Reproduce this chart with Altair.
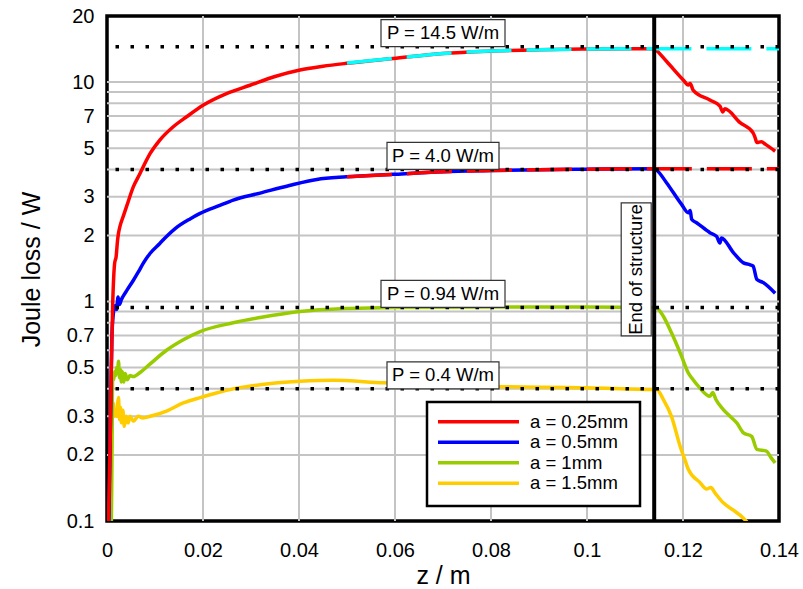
import altair as alt
import pandas as pd

# ---------------- data ----------------
series = ["a = 0.25mm", "a = 0.5mm", "a = 1mm", "a = 1.5mm"]
colors = ["#ff0000", "#0000ff", "#99cc00", "#ffcc00"]

red_z = [0.0003, 0.0006, 0.0009, 0.0012, 0.0014, 0.0016, 0.0019, 0.0022, 0.0024, 0.0027,
         0.0034, 0.0041, 0.0055, 0.0069, 0.0074, 0.009, 0.011, 0.0138, 0.0166, 0.0201,
         0.0249, 0.0298, 0.035, 0.0402, 0.045, 0.0499, 0.0596, 0.07, 0.08, 0.09,
         0.1, 0.108, 0.114, 0.1142, 0.1166, 0.1201, 0.1211, 0.1215, 0.1221, 0.1256,
         0.1277, 0.1283, 0.1287, 0.1319, 0.1346, 0.1350, 0.1354, 0.1363, 0.1372, 0.1392]
red_p = [0.1, 0.2, 0.5, 1.0, 1.3, 1.5, 1.6, 1.9, 2.05, 2.2,
         2.45, 2.72, 3.34, 3.84, 4.05, 4.73, 5.44, 6.26, 6.95, 7.86,
         8.86, 9.67, 10.6, 11.35, 11.8, 12.17, 12.8, 13.5, 13.85, 14.05,
         14.15, 14.2, 14.2, 14.1, 12.4, 10.2, 9.7, 9.85, 9.2, 8.28,
         7.77, 7.3, 7.55, 6.53, 5.87, 5.6, 5.3, 5.35, 5.2, 4.84]

blue_z = [0.0004, 0.0006, 0.0008, 0.001, 0.0013, 0.0017, 0.0020, 0.0023, 0.0026, 0.0030,
          0.0034, 0.0042, 0.0055, 0.0065, 0.0076, 0.009, 0.011, 0.0124, 0.0142, 0.0173,
          0.0194, 0.0235, 0.0263, 0.0319, 0.038, 0.0437, 0.0499, 0.0596, 0.07, 0.08,
          0.09, 0.1, 0.114,
          0.1145, 0.1166, 0.1197, 0.1211, 0.1215, 0.1218, 0.1229, 0.1256, 0.1270, 0.1277,
          0.1280, 0.1305, 0.1326, 0.1340, 0.1346, 0.1354, 0.1367, 0.1392]
blue_p = [0.1, 0.19, 0.36, 0.67, 0.87, 0.96, 0.92, 1.05, 0.97, 1.02,
          1.06, 1.13, 1.25, 1.36, 1.50, 1.66, 1.84, 1.98, 2.15, 2.38,
          2.52, 2.74, 2.90, 3.12, 3.38, 3.60, 3.70, 3.8, 3.9, 3.95,
          3.99, 4.01, 4.03,
          3.97, 3.47, 2.77, 2.54, 2.6, 2.37, 2.28, 2.06, 1.98, 1.85,
          1.95, 1.67, 1.50, 1.47, 1.45, 1.26, 1.22, 1.09]

green_z = [0.0009, 0.001, 0.0011, 0.0012, 0.0014, 0.0016, 0.0018, 0.0020, 0.0022, 0.0024,
           0.0026, 0.0028, 0.0030, 0.0032, 0.0035, 0.0038, 0.0042, 0.0048, 0.0055, 0.0069,
           0.009, 0.0124, 0.0159, 0.0194, 0.0263, 0.0319, 0.0402, 0.0506, 0.06, 0.08,
           0.1, 0.114, 0.1145, 0.1159, 0.1176, 0.1197, 0.1211, 0.1218, 0.1235, 0.1256,
           0.1262, 0.1268, 0.1284, 0.1298, 0.1312, 0.1326, 0.1343, 0.1354, 0.1374, 0.1383, 0.1392]
green_p = [0.1, 0.2, 0.35, 0.47, 0.44, 0.48, 0.46, 0.50, 0.47, 0.535,
           0.45, 0.49, 0.43, 0.48, 0.43, 0.47, 0.44, 0.46, 0.455, 0.475,
           0.52, 0.60, 0.67, 0.73, 0.80, 0.845, 0.90, 0.93, 0.94, 0.945,
           0.945, 0.94, 0.936, 0.857, 0.72, 0.563, 0.473, 0.449, 0.404, 0.37,
           0.385, 0.36, 0.322, 0.30, 0.28, 0.252, 0.243, 0.212, 0.208, 0.195, 0.184]

yellow_z = [0.0009, 0.001, 0.0011, 0.0013, 0.0015, 0.0017, 0.002, 0.0022, 0.0024, 0.0026,
            0.0028, 0.003, 0.0033, 0.0036, 0.004, 0.0044, 0.0048, 0.0055, 0.0065, 0.0075,
            0.009, 0.0124, 0.0159, 0.0194, 0.0228, 0.0263, 0.0319, 0.0402, 0.0471, 0.0576,
            0.07, 0.08, 0.1, 0.114, 0.1145, 0.1159, 0.1176, 0.1194, 0.1204, 0.1211,
            0.1235, 0.1249, 0.1258, 0.1267, 0.1284, 0.1305, 0.1326, 0.1340]
yellow_p = [0.1, 0.2, 0.3, 0.345, 0.30, 0.32, 0.30, 0.34, 0.365, 0.29,
            0.33, 0.28, 0.32, 0.27, 0.30, 0.28, 0.30, 0.285, 0.30, 0.295,
            0.30, 0.317, 0.345, 0.365, 0.383, 0.40, 0.418, 0.433, 0.438, 0.426,
            0.418, 0.41, 0.405, 0.397, 0.397, 0.358, 0.30, 0.219, 0.19, 0.172,
            0.15, 0.14, 0.142, 0.134, 0.121, 0.112, 0.103, 0.095]

# fitted asymptotic curves (dashed)
fit_names = ["fit 0.25mm", "fit 0.5mm"]
fit_colors = ["#00ffff", "#ff0000"]
fit_z = [0.05, 0.06, 0.07, 0.08, 0.09, 0.1, 0.114, 0.14]
fit_cyan_p = [12.2, 12.85, 13.5, 13.85, 14.05, 14.15, 14.2, 14.2]
fit_red_p = [3.7, 3.8, 3.9, 3.95, 3.99, 4.01, 4.03, 4.03]

# asymptotic power levels
p_values = [14.5, 4.0, 0.94, 0.4]
p_labels = ["P = 14.5 W/m", "P = 4.0 W/m", "P = 0.94 W/m", "P = 0.4 W/m"]
p_label_z = 0.07

z_end = 0.114
end_label = "End of structure"
end_label_p = 1.4

x_ticks = [0, 0.02, 0.04, 0.06, 0.08, 0.1, 0.12, 0.14]
y_ticks = [0.1, 0.2, 0.3, 0.5, 0.7, 1, 2, 3, 5, 7, 10, 20]

# ---------------- tables ----------------
def frame(name, col, zs, ps):
    return pd.DataFrame({"z": zs, "P": ps, "series": name, "color": col, "i": range(len(zs))})

curve_df = pd.concat([
    frame(series[3], colors[3], yellow_z, yellow_p),
    frame(series[2], colors[2], green_z, green_p),
    frame(series[1], colors[1], blue_z, blue_p),
    frame(series[0], colors[0], red_z, red_p),
], ignore_index=True)

fit_df = pd.concat([
    frame(fit_names[0], fit_colors[0], fit_z, fit_cyan_p),
    frame(fit_names[1], fit_colors[1], fit_z, fit_red_p),
], ignore_index=True)

grid_y = [m * 10.0 ** e for e in (-1, 0) for m in range(1, 10)] + [10]
grid_y = [round(v, 3) for v in grid_y if v > 0.1]
grid_x = x_ticks[1:-1]

p_df = pd.DataFrame({"P": p_values, "label": p_labels, "z": [p_label_z] * len(p_values)})

# ---------------- chart ----------------
FONT = "Liberation Sans"
W, H = 672, 505
xs = alt.Scale(domain=[0, 0.14], nice=False, zero=False)
ys = alt.Scale(type="log", domain=[0.1, 20], nice=False)

x_axis = alt.Axis(values=x_ticks, format="~g", grid=False, domain=False, ticks=False,
                  labelFontSize=20, labelFont=FONT, labelColor="black", labelPadding=19,
                  labelFlush=False, labelOverlap=False,
                  title="z / m", titleFontSize=25, titleFont=FONT, titleFontWeight="normal",
                  titleColor="black", titleY=54, titleBaseline="middle")
y_axis = alt.Axis(values=y_ticks, format="~g", grid=False, domain=False, ticks=False,
                  labelFontSize=20, labelFont=FONT, labelColor="black", labelPadding=13,
                  labelFlush=False, labelOverlap=False,
                  title="Joule loss / W", titleFontSize=25, titleFont=FONT,
                  titleFontWeight="normal", titleColor="black", titleX=-76, titleY=253,
                  titleAngle=270, titleAlign="center", titleBaseline="middle")

X = alt.X("z:Q", scale=xs)
Y = alt.Y("P:Q", scale=ys)

ygrid = alt.Chart(pd.DataFrame({"v": grid_y})).mark_rule(color="#c4c4c4", strokeWidth=2).encode(
    y=alt.Y("v:Q", scale=ys))
xgrid = alt.Chart(pd.DataFrame({"v": grid_x})).mark_rule(color="#c4c4c4", strokeWidth=2).encode(
    x=alt.X("v:Q", scale=xs))

curves = alt.Chart(curve_df).mark_line(strokeWidth=3.5, clip=True, strokeJoin="round",
                                       interpolate="monotone").encode(
    x=alt.X("z:Q", scale=xs, axis=x_axis),
    y=alt.Y("P:Q", scale=ys, axis=y_axis),
    color=alt.Color("color:N", scale=None),
    detail="series:N",
    order="i:Q",
)

fits = alt.Chart(fit_df).mark_line(strokeWidth=3.5, clip=True, strokeDash=[45, 15],
                                   interpolate="monotone").encode(
    x=X, y=Y,
    color=alt.Color("color:N", scale=None),
    detail="series:N",
    order="i:Q",
)

endline = alt.Chart(pd.DataFrame({"z": [z_end]})).mark_rule(color="black", strokeWidth=4).encode(x=X)

plines = alt.Chart(p_df).mark_rule(color="black", strokeWidth=3.5, strokeDash=[3.5, 11.5]).encode(y=Y)

pbox = alt.Chart(p_df).transform_calculate(
    w="12*length(datum.label) - 20"
).transform_calculate(
    path="'M' + (-datum.w/2) + ',-27H' + (datum.w/2) + 'V0H' + (-datum.w/2) + 'Z'"
).mark_point(filled=True, fill="white", stroke="#333333", strokeWidth=1.2, opacity=1,
             fillOpacity=1, size=4).encode(
    x=X, y=Y,
    shape=alt.Shape("path:N", scale=None),
)

ptext = alt.Chart(p_df).mark_text(fontSize=18.5, font=FONT, color="black", dy=-13.5,
                                  align="center", baseline="middle").encode(
    x=X, y=Y, text="label:N")

end_df = pd.DataFrame({"z": [z_end], "P": [end_label_p], "label": [end_label]})
endbox = alt.Chart(end_df).mark_point(filled=True, fill="white", stroke="#333333", strokeWidth=1.2,
                                      opacity=1, fillOpacity=1, size=4,
                                      shape="M-33,-66.5H-3V66.5H-33Z").encode(x=X, y=Y)
endtext = alt.Chart(end_df).mark_text(fontSize=18.5, font=FONT, color="black", angle=270,
                                      dy=-18, align="center", baseline="middle").encode(
    x=X, y=Y, text="label:N")

# legend, drawn by hand (pixel placement inside the plot area)
one = pd.DataFrame({"k": [0]})
legend_layers = [
    alt.Chart(one).mark_rect(fill="white", stroke="black", strokeWidth=2.5).encode(
        x=alt.value(320), x2=alt.value(533), y=alt.value(386), y2=alt.value(490))
]
for row, (lab, col) in enumerate(zip(series, colors)):
    ypix = 405.7 + 20.5 * row
    legend_layers.append(
        alt.Chart(one).mark_rule(strokeWidth=3.5, color=col).encode(
            x=alt.value(331), x2=alt.value(412), y=alt.value(ypix)))
    legend_layers.append(
        alt.Chart(one).mark_text(fontSize=18.5, font=FONT, color="black", align="left",
                                 baseline="middle", text=lab).encode(
            x=alt.value(423), y=alt.value(ypix)))

chart = alt.layer(
    ygrid, xgrid, curves, fits, endline, plines, pbox, ptext, endbox, endtext,
    *legend_layers
).properties(
    width=W, height=H,
    padding={"left": 107, "top": 16, "right": 24, "bottom": 68},
    autosize=alt.AutoSizeParams(type="none"),
    background="white",
).configure_view(stroke="black", strokeWidth=3.5)

chart.save("out.html", embed_options={"renderer": "svg", "actions": False})
